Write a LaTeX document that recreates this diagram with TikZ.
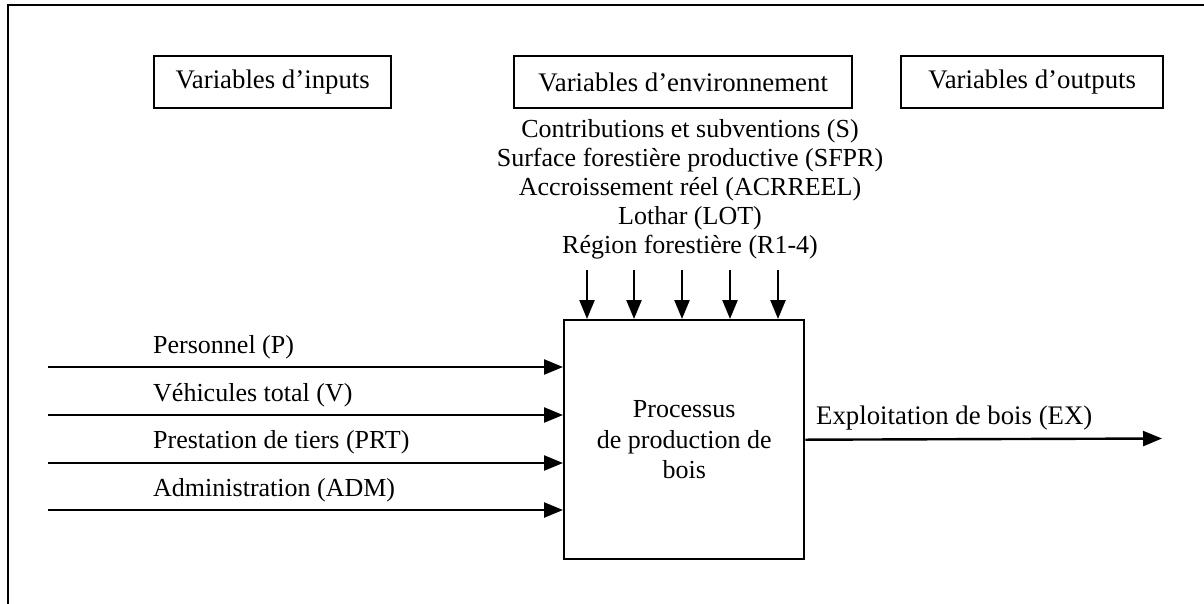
\documentclass[tikz,border=0pt]{standalone}
\usepackage{fontspec}
\setmainfont{Liberation Serif}
\usetikzlibrary{arrows.meta}
\begin{document}
\begin{tikzpicture}[x=1pt,y=-1pt,
  lw/.style={line width=2.4pt},
  txt/.style={font=\fontsize{26}{29}\selectfont,inner sep=0pt},
  bigtxt/.style={font=\fontsize{26.8}{29}\selectfont,inner sep=0pt},
  titlebox/.style={draw,lw,bigtxt,minimum height=52pt,anchor=north west},
  arr/.style={lw,-{Triangle[length=19pt,width=15pt]}}]
\useasboundingbox (0,0) rectangle (1204,603);
\draw[lw] (8,605) -- (8,5) -- (1206,5);
% title boxes
\node[titlebox,minimum width=237pt] (tin) at (153,55) {Variables d’inputs};
\node[titlebox,minimum width=338pt] (tenv) at (513,55) {Variables d’environnement};
\node[titlebox,minimum width=262pt] (tout) at (900,55) {Variables d’outputs};
% environment variables
\node[txt,anchor=base] (e1) at (690,137) {Contributions et subventions (S)};
\node[txt,anchor=base] (e2) at (690,166) {Surface forestière productive (SFPR)};
\node[txt,anchor=base] (e3) at (690,195) {Accroissement réel (ACRREEL)};
\node[txt,anchor=base] (e4) at (690,224) {Lothar (LOT)};
\node[txt,anchor=base] (e5) at (690,253) {Région forestière (R1-4)};
% process box
\node[draw,lw,inner sep=0pt,minimum width=240pt,minimum height=239pt,anchor=north west,
  font=\fontsize{26}{30.5}\selectfont,align=center] (proc) at (563,319)
  {Processus\\de production de\\bois};
% down arrows
\foreach \i/\x in {1/587,2/634,3/682,4/730,5/778}{
  \coordinate (d\i) at (\x,270);
  \draw[arr] (d\i) -- (d\i |- proc.north);
}
% input arrows
\coordinate (i1) at (48,367);
\coordinate (i2) at (48,415);
\coordinate (i3) at (48,463);
\coordinate (i4) at (48,510);
\foreach \i in {1,2,3,4}{\draw[arr] (i\i) -- (i\i -| proc.west);}
\node[txt,anchor=base west] (l1) at (153,353) {Personnel (P)};
\node[txt,anchor=base west] (l2) at (153,401) {Véhicules total (V)};
\node[txt,anchor=base west] (l3) at (153,448) {Prestation de tiers (PRT)};
\node[txt,anchor=base west] (l4) at (153,496) {Administration (ADM)};
% output arrow
\coordinate (o1) at (1162,438.5);
\draw[arr] (proc.east) -- (o1);
\node[bigtxt,anchor=base west] (lo) at (816,424) {Exploitation de bois (EX)};
\end{tikzpicture}
\end{document}
